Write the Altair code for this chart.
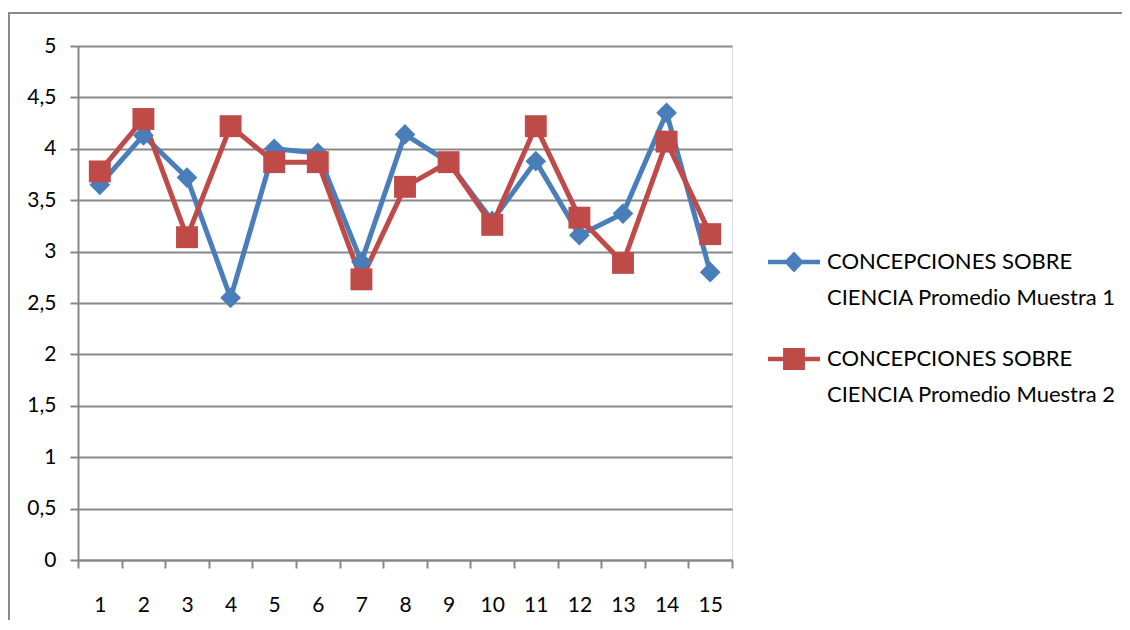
import altair as alt
import pandas as pd

categorias = list(range(1, 16))
serie1 = [3.65, 4.13, 3.72, 2.55, 4.00, 3.96, 2.90, 4.14, 3.87, 3.30, 3.88, 3.16, 3.37, 4.35, 2.80]
serie2 = [3.78, 4.29, 3.14, 4.22, 3.87, 3.87, 2.73, 3.63, 3.87, 3.26, 4.22, 3.33, 2.89, 4.07, 3.17]
nombres = ["CONCEPCIONES SOBRE CIENCIA Promedio Muestra 1",
           "CONCEPCIONES SOBRE CIENCIA Promedio Muestra 2"]
y_ticks = [0, 0.5, 1, 1.5, 2, 2.5, 3, 3.5, 4, 4.5, 5]

rows = []
for nombre, vals in zip(nombres, [serie1, serie2]):
    for c, v in zip(categorias, vals):
        rows.append({"n": c, "serie": nombre, "valor": v})
df = pd.DataFrame(rows)

FONT = "Lato"
GRID = "#878787"
colores = ["#4a7ebb", "#be4b48"]

x_enc = alt.X("n:O", sort=categorias,
              scale=alt.Scale(type="band", paddingInner=0, paddingOuter=0),
              axis=alt.Axis(title=None, labelAngle=0, tickBand="extent", grid=False,
                            domainColor=GRID, domainWidth=2, tickColor=GRID, tickWidth=2,
                            tickSize=8, labelPadding=26, labelFontSize=21,
                            labelFont=FONT, labelColor="black"))
y_enc = alt.Y("valor:Q", scale=alt.Scale(domain=[0, 5], nice=False, zero=True),
              axis=alt.Axis(title=None, values=y_ticks, grid=True, gridColor=GRID,
                            gridWidth=2, domainColor=GRID, domainWidth=2,
                            tickColor=GRID, tickWidth=2, tickSize=8, labelPadding=14,
                            labelFontSize=21, labelFont=FONT, labelColor="black",
                            labelExpr="replace(format(datum.value, '~g'), '.', ',')"))
color_scale = alt.Scale(domain=nombres, range=colores)
color_enc = alt.Color("serie:N", scale=color_scale, legend=None)

diamante = "M-1,-0.09 H-0.3 L0,-0.4 L0.3,-0.09 H1 V0.09 H0.3 L0,0.4 L-0.3,0.09 H-1 Z"
cuadrado = "M-1,-0.09 H-0.42 V-0.42 H0.42 V-0.09 H1 V0.09 H0.42 V0.42 H-0.42 V0.09 H-1 Z"

leyenda_cfg = alt.Legend(title=None, orient="none", legendX=690, legendY=190,
                         symbolOpacity=1, symbolStrokeWidth=0,
                         symbolSize=2704, labelFont=FONT, labelFontSize=22,
                         labelColor="black", labelOffset=7, rowPadding=24,
                         labelLimit=400, padding=0,
                         labelExpr="['CONCEPCIONES SOBRE', replace(datum.label, 'CONCEPCIONES SOBRE ', '')]")

base = alt.Chart(df)

lineas = base.mark_line(strokeWidth=5, strokeJoin="round", strokeCap="round").encode(
    x=x_enc, y=y_enc, color=color_enc, detail="serie:N")

puntos = base.mark_point(filled=True, opacity=1, strokeWidth=0).encode(
    x=x_enc, y=y_enc, color=color_enc,
    shape=alt.Shape("serie:N", scale=alt.Scale(domain=nombres, range=["diamond", "square"]),
                    legend=None),
    size=alt.Size("serie:N", scale=alt.Scale(domain=nombres, range=[430, 480]), legend=None))

leyenda = base.mark_point(filled=True, opacity=0, size=2704).encode(
    x=x_enc, y=y_enc,
    color=alt.Color("serie:N", scale=color_scale, legend=leyenda_cfg),
    shape=alt.Shape("serie:N", scale=alt.Scale(domain=nombres, range=[diamante, cuadrado]),
                    legend=leyenda_cfg),
)

borde = alt.Chart(alt.Data(values=[{}])).mark_rect(fill=None, stroke="#8a8a8a", strokeWidth=2).encode(
    x=alt.value(-69), x2=alt.value(2000), y=alt.value(-33), y2=alt.value(2000))

chart = alt.layer(borde, lineas, puntos, leyenda).resolve_scale(
    shape="independent", size="independent", color="independent"
).properties(
    width=654, height=514,
    padding={"left": 70, "top": 38, "right": 390, "bottom": 60},
    autosize=alt.AutoSizeParams(type="none"),
).configure_view(stroke=None).configure(
    font=FONT, style={"guide-label": {"lineHeight": 36}}
)

chart.save("out.html", embed_options={"renderer": "svg", "actions": False})
